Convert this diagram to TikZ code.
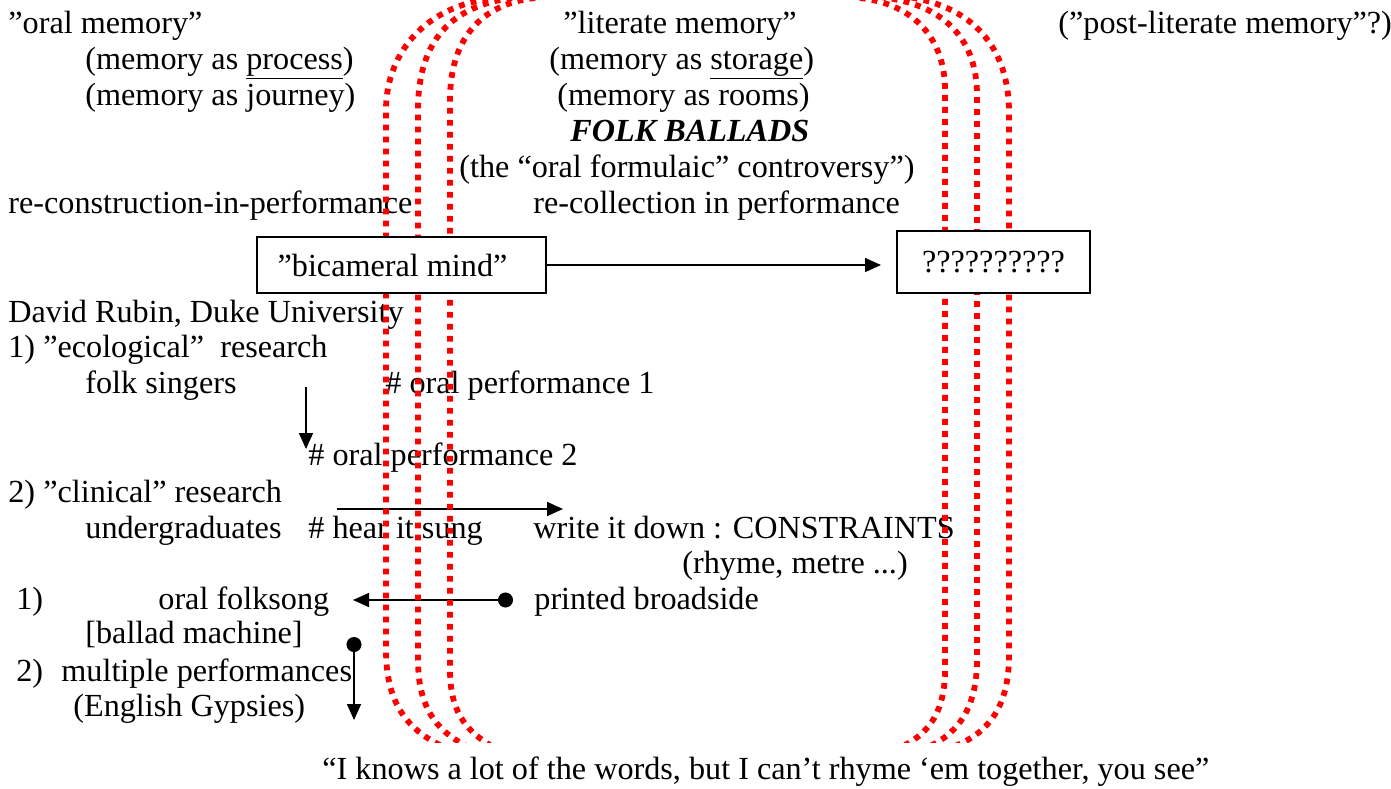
\documentclass[tikz,border=0pt]{standalone}
\usepackage{fontspec}
\setmainfont{Liberation Serif}
\usetikzlibrary{arrows.meta}
\begin{document}
\begin{tikzpicture}[x=0.5pt,y=-0.5pt,
    every node/.style={font=\fontsize{16.1}{18}\selectfont,inner sep=0pt},
    txt/.style={anchor=base west},
    frame/.style={draw,line width=1pt,fill=white},
    reddots/.style={red,line width=2.9pt,dash pattern=on 2.9pt off 3.1pt},
    arr/.style={line width=0.8pt,-{Triangle[length=8pt,width=7pt]}},
    dotarr/.style={line width=0.8pt,{Circle[length=7.5pt]}-{Triangle[length=8pt,width=7pt]}}]
    \useasboundingbox (0,0) rectangle (1391,788);
    \node[txt] (oral) at (8,33) {”oral memory”};
    \node[txt] (process) at (85,69) {(memory as \underline{process})};
    \node[txt] (journey) at (85,105) {(memory as journey)};
    \node[txt] (reconstr) at (8,213) {re-construction-in-performance};
    \node[txt] (literate) at (563,33) {”literate memory”};
    \node[txt] (storage) at (549,69) {(memory as \underline{storage})};
    \node[txt] (rooms) at (557,105) {(memory as rooms)};
    \node[txt] (ballads) at (570,141) {\textbf{\textit{FOLK BALLADS}}};
    \node[txt] (formulaic) at (459,177) {(the “oral formulaic” controversy”)};
    \node[txt] (recoll) at (533,213) {re-collection in performance};
    \node[txt] (postlit) at (1058,33) {(”post-literate memory”?)};
    \node[txt] (rubin) at (8,322) {David Rubin, Duke University};
    \node[txt] (ecol) at (8,357) {1) ”ecological”\ \ research};
    \node[txt] (singers) at (85,393) {folk singers};
    \node[txt] (perf1) at (385,393) {\# oral performance 1};
    \node[txt] (perf2) at (308,465) {\# oral performance 2};
    \node[txt] (clin) at (8,502) {2) ”clinical” research};
    \node[txt] (undergrad) at (85,538) {undergraduates};
    \node[txt] (hear) at (308,538) {\# hear it sung};
    \node[txt] (writedown) at (533,538) {write it down : CONSTRAINTS};
    \node[txt] (rhyme) at (682,573) {(rhyme, metre ...)};
    \node[txt] (one) at (16,609) {1)};
    \node[txt] (folksong) at (158,609) {oral folksong};
    \node[txt] (broadside) at (534,609) {printed broadside};
    \node[txt] (machine) at (85,643) {[ballad machine]};
    \node[txt] (two) at (16,681) {2)};
    \node[txt] (multiple) at (61,681) {multiple performances};
    \node[txt] (gypsies) at (73,716) {(English Gypsies)};
    \node[txt] (quote) at (322,779) {“I knows a lot of the words, but I can’t rhyme ‘em together, you see”};
    \coordinate (singersA) at (306,387);
    \coordinate (singersB) at (306,449);
    \coordinate (hearA) at (337,509);
    \coordinate (hearB) at (563,509);
    \coordinate (broadsideA) at (513,600);
    \coordinate (broadsideB) at (353,600);
    \coordinate (machineA) at (354,637);
    \coordinate (machineB) at (354,720);
    \draw[arr] (singersA) -- (singersB);
    \draw[arr] (hearA) -- (hearB);
    \draw[dotarr] (broadsideA) -- (broadsideB);
    \draw[dotarr] (machineA) -- (machineB);
    \begin{scope}
      \clip (0,0) rectangle (1391,742);
      \draw[reddots] (500,-2) .. controls (430,2) and (386,50) .. (386,110) -- (386,650) .. controls (386,700) and (405,728) .. (440,745);
      \draw[reddots] (512,-2) .. controls (452,6) and (418,40) .. (418,110) -- (418,660) .. controls (418,705) and (435,730) .. (465,745);
      \draw[reddots] (535,-2) .. controls (480,4) and (450,40) .. (450,100) -- (450,670) .. controls (450,710) and (465,730) .. (490,745);
      \draw[reddots] (860,-2) .. controls (915,4) and (945,40) .. (945,90) -- (945,670) .. controls (945,710) and (930,732) .. (905,745);
      \draw[reddots] (880,-3) .. controls (945,4) and (977,40) .. (977,95) -- (977,660) .. controls (977,705) and (960,732) .. (930,746);
      \draw[reddots] (900,-4) .. controls (975,4) and (1009,50) .. (1009,112) -- (1009,655) .. controls (1009,705) and (990,732) .. (955,746);
    \end{scope}
    \node[frame,minimum width=144.5pt,minimum height=28pt] (bicameral) at (401.5,265) {”bicameral mind”\kern9pt};
    \node[frame,minimum width=96.5pt,minimum height=31pt] (qmarks) at (993.5,262) {??????????};
    \draw[arr,shorten >=7.5pt] (bicameral.east) -- (bicameral.east -| qmarks.west);
\end{tikzpicture}
\end{document}
